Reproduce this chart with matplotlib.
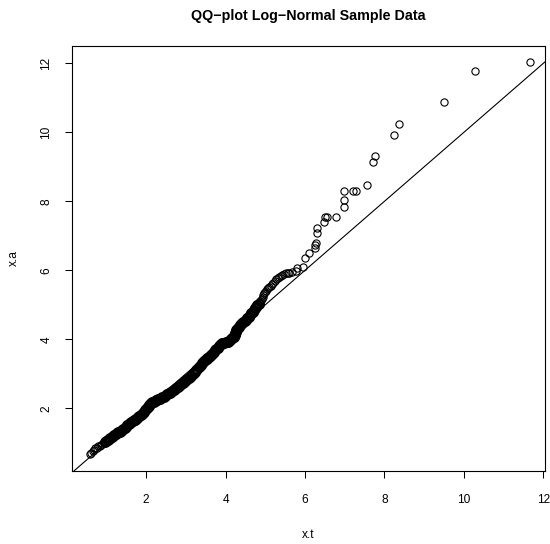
import matplotlib
matplotlib.use("Agg")
import matplotlib.pyplot as plt

plt.rcParams['font.family'] = ['Liberation Sans', 'DejaVu Sans']

# theoretical quantiles (x.t) and sorted sample (x.a)
xt = [0.58, 0.62, 0.66, 0.70, 0.72, 0.76, 0.80, 0.84, 0.87, 0.90,
      0.93, 0.96, 1.00, 1.03, 1.07, 1.10, 1.14, 1.17, 1.20, 1.23,
      1.27, 1.30, 1.33, 1.36, 1.39, 1.42, 1.46, 1.49, 1.53, 1.56,
      1.60, 1.63, 1.66, 1.69, 1.72, 1.75, 1.77, 1.80, 1.83, 1.86,
      1.89, 1.92, 1.94, 1.97, 2.00, 2.02, 2.04, 2.06, 2.07, 2.10,
      2.13, 2.16, 2.19, 2.22, 2.25, 2.28, 2.31, 2.34, 2.38, 2.41,
      2.44, 2.47, 2.50, 2.53, 2.57, 2.60, 2.63, 2.66, 2.70, 2.73,
      2.76, 2.79, 2.83, 2.86, 2.89, 2.92, 2.95, 2.98, 3.01, 3.04,
      3.08, 3.11, 3.14, 3.17, 3.20, 3.23, 3.26, 3.29, 3.32, 3.35,
      3.37, 3.40, 3.43, 3.46, 3.49, 3.52, 3.54, 3.57, 3.60, 3.63,
      3.66, 3.69, 3.71, 3.74, 3.77, 3.80, 3.83, 3.86, 3.88, 3.91,
      3.94, 3.97, 4.00, 4.03, 4.05, 4.08, 4.11, 4.14, 4.16, 4.19,
      4.21, 4.23, 4.24, 4.25, 4.26, 4.29, 4.31, 4.34, 4.37, 4.40,
      4.42, 4.45, 4.48, 4.52, 4.55, 4.58, 4.61, 4.65, 4.68, 4.71,
      4.74, 4.77, 4.80, 4.83, 4.85, 4.87, 4.89, 4.91, 4.93, 4.95,
      4.97, 5.00, 5.02, 5.04, 5.06, 5.10, 5.14, 5.17, 5.20, 5.24,
      5.27, 5.31, 5.35, 5.39, 5.43, 5.48, 5.52, 5.56, 5.59, 5.68,
      5.77, 5.81, 5.94, 6.00, 6.11, 6.26, 6.26, 6.27, 6.29, 6.31,
      6.48, 6.49, 6.55, 6.78, 6.97, 6.98, 6.98, 7.20, 7.29, 7.56,
      7.70, 7.77, 8.25, 8.36, 9.50, 10.29, 11.65]

xa = [0.67, 0.70, 0.75, 0.80, 0.84, 0.86, 0.90, 0.92, 0.95, 0.97,
      0.99, 1.03, 1.06, 1.09, 1.12, 1.15, 1.18, 1.20, 1.22, 1.25,
      1.27, 1.30, 1.32, 1.35, 1.37, 1.40, 1.44, 1.47, 1.51, 1.54,
      1.57, 1.60, 1.62, 1.65, 1.67, 1.69, 1.71, 1.74, 1.77, 1.80,
      1.84, 1.87, 1.90, 1.94, 1.98, 2.02, 2.05, 2.08, 2.10, 2.13,
      2.15, 2.17, 2.19, 2.21, 2.23, 2.25, 2.26, 2.28, 2.30, 2.32,
      2.34, 2.36, 2.38, 2.40, 2.43, 2.45, 2.48, 2.50, 2.53, 2.56,
      2.59, 2.62, 2.65, 2.68, 2.71, 2.74, 2.77, 2.80, 2.83, 2.86,
      2.89, 2.92, 2.95, 2.98, 3.01, 3.06, 3.10, 3.15, 3.19, 3.23,
      3.26, 3.30, 3.33, 3.36, 3.39, 3.42, 3.45, 3.49, 3.52, 3.55,
      3.58, 3.61, 3.64, 3.68, 3.72, 3.76, 3.80, 3.83, 3.86, 3.88,
      3.89, 3.90, 3.91, 3.92, 3.93, 3.95, 3.98, 4.00, 4.03, 4.06,
      4.08, 4.13, 4.18, 4.22, 4.27, 4.30, 4.33, 4.37, 4.40, 4.43,
      4.46, 4.49, 4.53, 4.57, 4.61, 4.65, 4.70, 4.75, 4.80, 4.85,
      4.90, 4.94, 4.99, 5.03, 5.07, 5.10, 5.14, 5.18, 5.23, 5.28,
      5.33, 5.37, 5.41, 5.45, 5.48, 5.51, 5.54, 5.59, 5.64, 5.69,
      5.74, 5.77, 5.80, 5.83, 5.86, 5.88, 5.91, 5.93, 5.93, 5.95,
      5.97, 6.08, 6.10, 6.35, 6.49, 6.64, 6.72, 6.80, 7.07, 7.22,
      7.40, 7.55, 7.55, 7.55, 7.83, 8.05, 8.29, 8.29, 8.29, 8.46,
      9.14, 9.32, 9.91, 10.25, 10.87, 11.77, 12.04]

assert len(xt) == len(xa), (len(xt), len(xa))

ticks = [2, 4, 6, 8, 10, 12]

fig = plt.figure(figsize=(5.5, 5.44), dpi=100)
ax = fig.add_axes([0.1304, 0.1347, 0.8605, 0.7807])

# the middle of the sample is so crowded that the circles merge into a solid band
dense = [(a, b) for a, b in zip(xt, xa) if 0.95 < a < 4.85]
sparse = [(a, b) for a, b in zip(xt, xa) if not (0.95 < a < 4.85)]
ax.plot([p[0] for p in dense], [p[1] for p in dense], 'o', markersize=6.4,
        markerfacecolor='none', markeredgecolor='black', markeredgewidth=1.5)
ax.plot([p[0] for p in sparse], [p[1] for p in sparse], 'o', markersize=5.2,
        markerfacecolor='none', markeredgecolor='black', markeredgewidth=0.8)
ax.axline((0, 0), slope=1, color='black', linewidth=0.8)

ax.set_xlim(0.127, 12.04)
ax.set_ylim(0.19, 12.5)
ax.set_xticks(ticks)
ax.set_yticks(ticks)
ax.set_xticklabels([str(t) for t in ticks], fontsize=8.6)
ax.set_yticklabels([str(t) for t in ticks], fontsize=8.6, rotation=90, va='center')
ax.tick_params(direction='out', length=5, width=0.75)
ax.tick_params(axis='x', pad=12)
ax.tick_params(axis='y', pad=9)
for s in ax.spines.values():
    s.set_linewidth(0.8)

ax.set_xlabel('x.t', fontsize=8.6, labelpad=16.5)
ax.set_ylabel('x.a', fontsize=8.6, labelpad=15)
ax.set_title('QQ\u2212plot Log\u2212Normal Sample Data', fontsize=10.3,
             fontweight='bold', pad=19)

fig.savefig('out.png', dpi=100)
